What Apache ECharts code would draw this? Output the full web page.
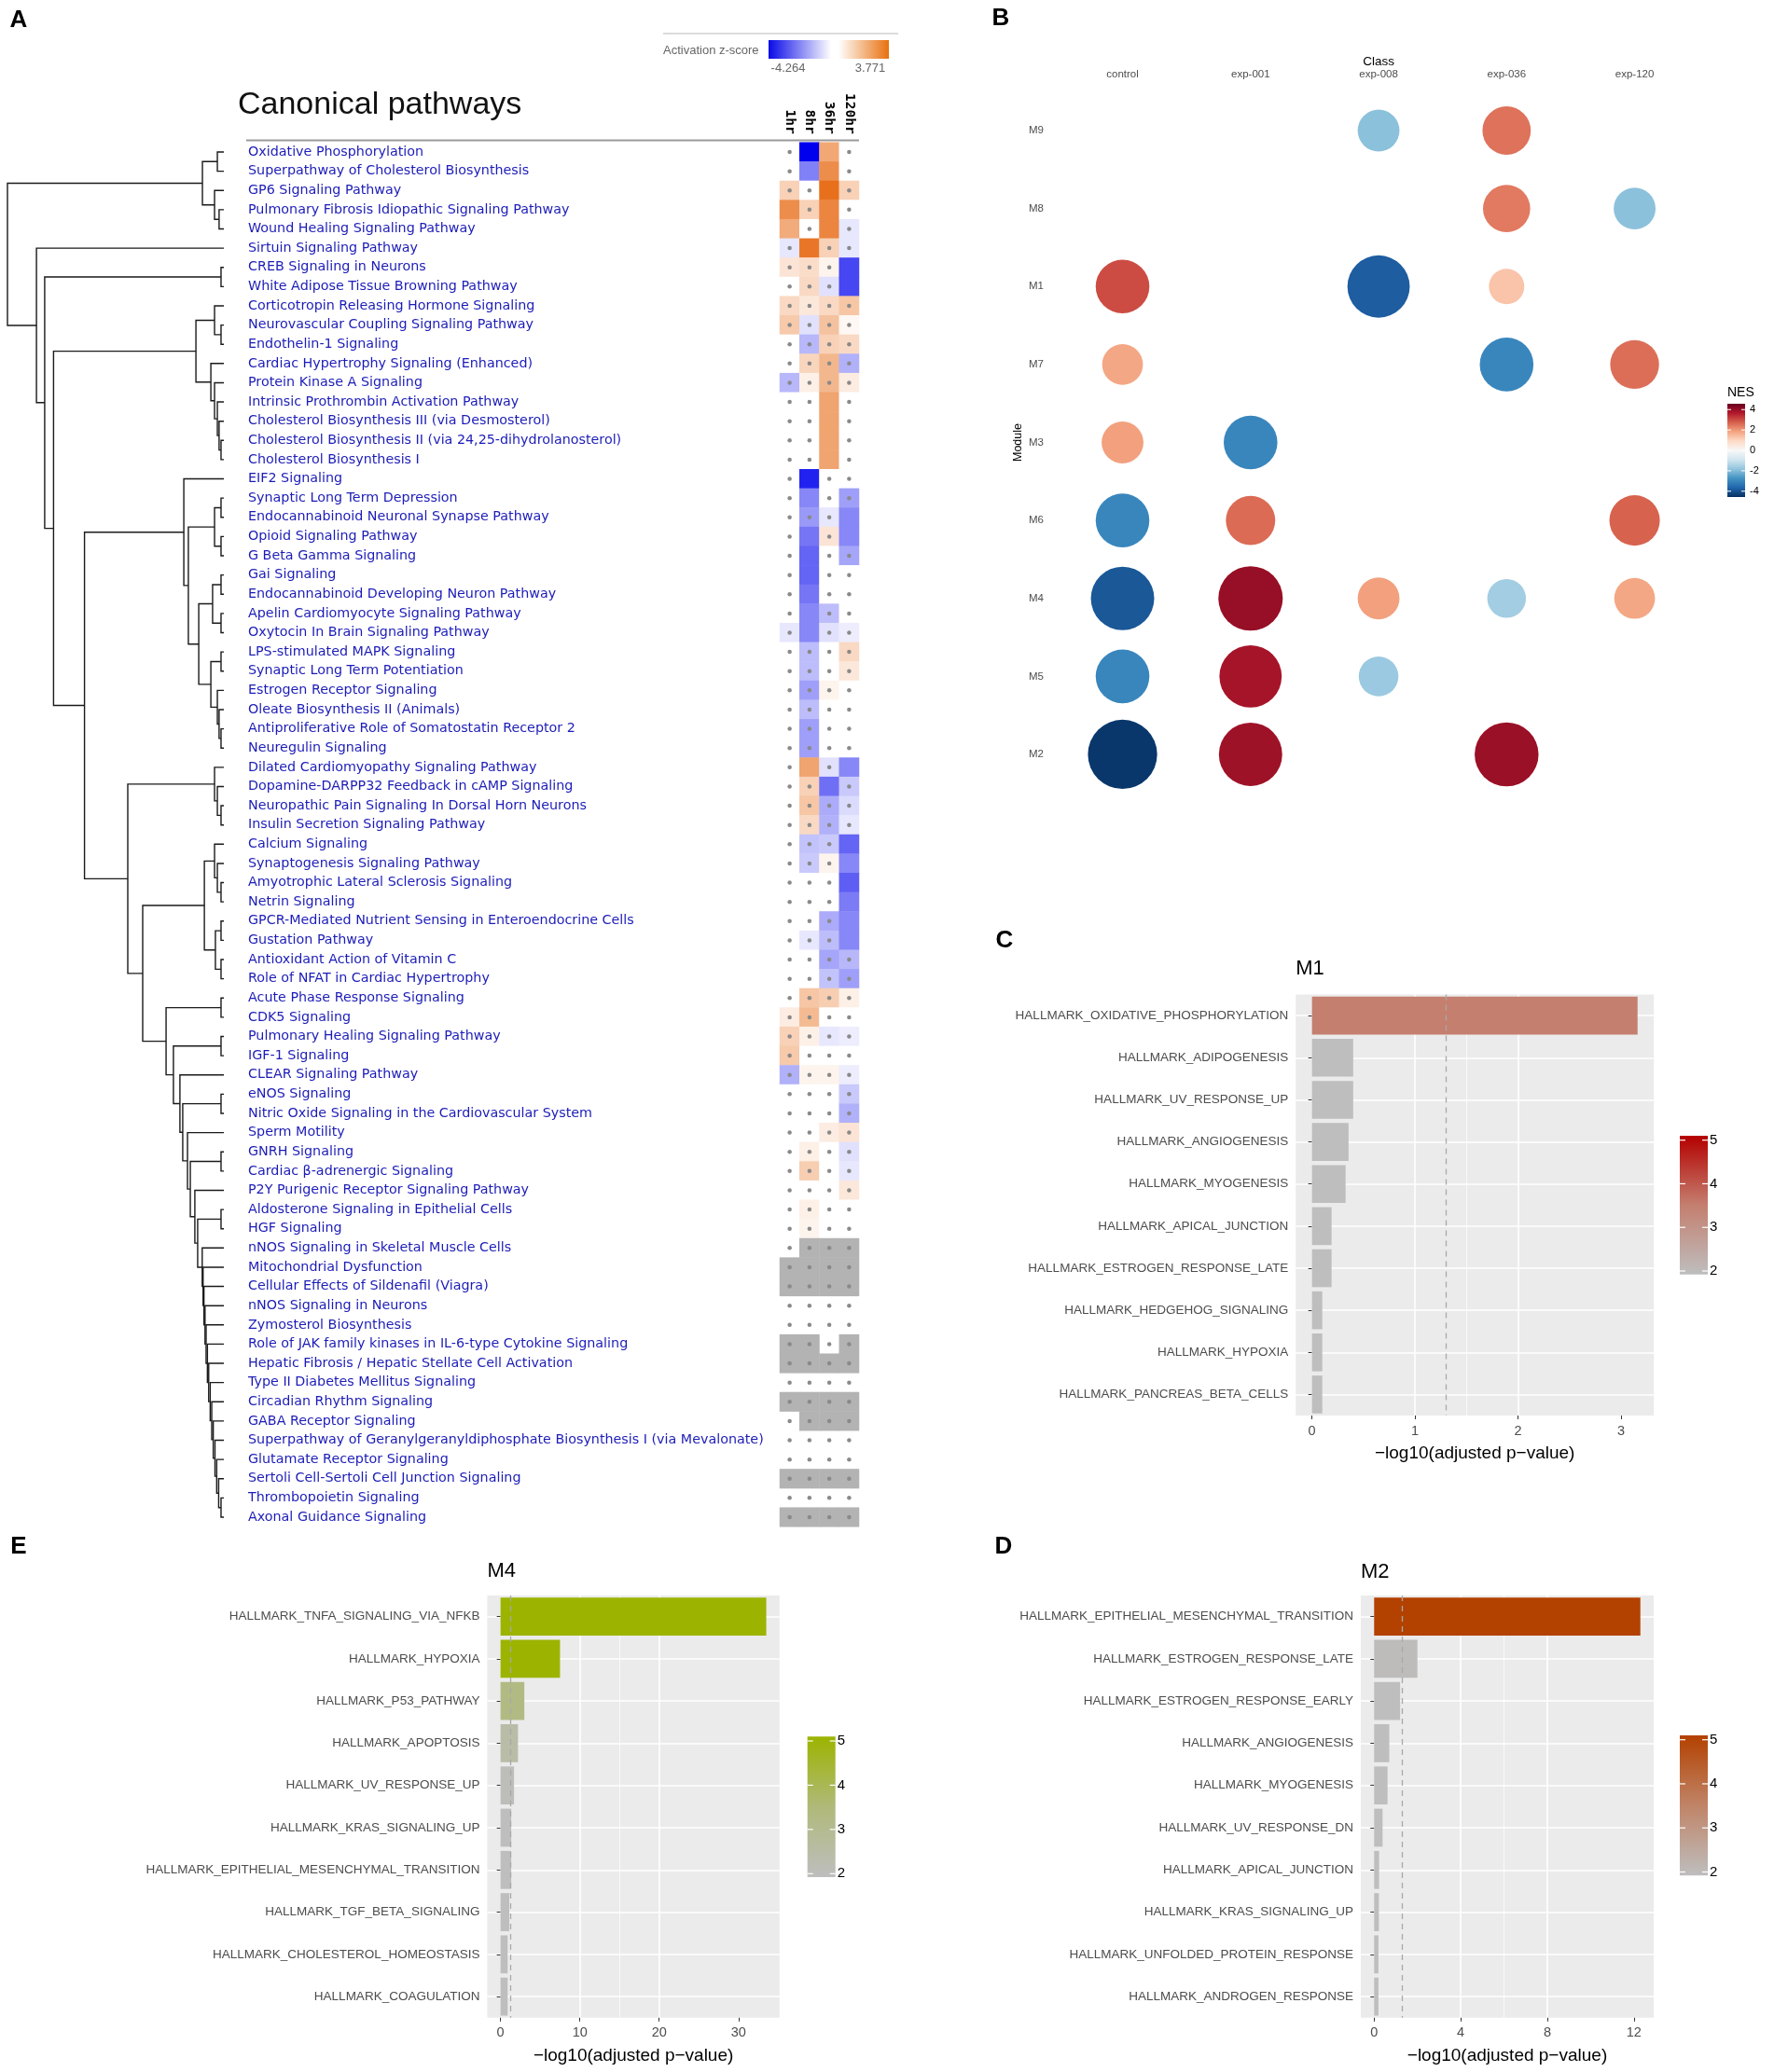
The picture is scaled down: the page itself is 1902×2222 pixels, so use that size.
<!DOCTYPE html>
<html><head><meta charset="utf-8">
<script src="https://cdn.jsdelivr.net/npm/echarts@6.0.0/dist/echarts.min.js"></script>
<style>html,body{margin:0;padding:0;background:#fff}#c{width:1902px;height:2222px}</style>
</head><body><div id="c"></div>
<script>
// ================= DATA =================
const pathways = [
 'Oxidative Phosphorylation','Superpathway of Cholesterol Biosynthesis','GP6 Signaling Pathway',
 'Pulmonary Fibrosis Idiopathic Signaling Pathway','Wound Healing Signaling Pathway','Sirtuin Signaling Pathway',
 'CREB Signaling in Neurons','White Adipose Tissue Browning Pathway','Corticotropin Releasing Hormone Signaling',
 'Neurovascular Coupling Signaling Pathway','Endothelin-1 Signaling','Cardiac Hypertrophy Signaling (Enhanced)',
 'Protein Kinase A Signaling','Intrinsic Prothrombin Activation Pathway','Cholesterol Biosynthesis III (via Desmosterol)',
 'Cholesterol Biosynthesis II (via 24,25-dihydrolanosterol)','Cholesterol Biosynthesis I','EIF2 Signaling',
 'Synaptic Long Term Depression','Endocannabinoid Neuronal Synapse Pathway','Opioid Signaling Pathway',
 'G Beta Gamma Signaling','Gai Signaling','Endocannabinoid Developing Neuron Pathway',
 'Apelin Cardiomyocyte Signaling Pathway','Oxytocin In Brain Signaling Pathway','LPS-stimulated MAPK Signaling',
 'Synaptic Long Term Potentiation','Estrogen Receptor Signaling','Oleate Biosynthesis II (Animals)',
 'Antiproliferative Role of Somatostatin Receptor 2','Neuregulin Signaling','Dilated Cardiomyopathy Signaling Pathway',
 'Dopamine-DARPP32 Feedback in cAMP Signaling','Neuropathic Pain Signaling In Dorsal Horn Neurons','Insulin Secretion Signaling Pathway',
 'Calcium Signaling','Synaptogenesis Signaling Pathway','Amyotrophic Lateral Sclerosis Signaling',
 'Netrin Signaling','GPCR-Mediated Nutrient Sensing in Enteroendocrine Cells','Gustation Pathway',
 'Antioxidant Action of Vitamin C','Role of NFAT in Cardiac Hypertrophy','Acute Phase Response Signaling',
 'CDK5 Signaling','Pulmonary Healing Signaling Pathway','IGF-1 Signaling',
 'CLEAR Signaling Pathway','eNOS Signaling','Nitric Oxide Signaling in the Cardiovascular System',
 'Sperm Motility','GNRH Signaling','Cardiac \u03b2-adrenergic Signaling',
 'P2Y Purigenic Receptor Signaling Pathway','Aldosterone Signaling in Epithelial Cells','HGF Signaling',
 'nNOS Signaling in Skeletal Muscle Cells','Mitochondrial Dysfunction','Cellular Effects of Sildenafil (Viagra)',
 'nNOS Signaling in Neurons','Zymosterol Biosynthesis','Role of JAK family kinases in IL-6-type Cytokine Signaling',
 'Hepatic Fibrosis / Hepatic Stellate Cell Activation','Type II Diabetes Mellitus Signaling','Circadian Rhythm Signaling',
 'GABA Receptor Signaling','Superpathway of Geranylgeranyldiphosphate Biosynthesis I (via Mevalonate)','Glutamate Receptor Signaling',
 'Sertoli Cell-Sertoli Cell Junction Signaling','Thrombopoietin Signaling','Axonal Guidance Signaling'
];
const timepoints = ['1hr','8hr','36hr','120hr'];
// activation z-scores per time point (null = not available / grey cell)
const z1hr = [0,0,1.2,3.0,2.2,-0.4,0.7,0,1.0,1.4,0,0,-1.2,0,0,0,0,0,0,0,0,0,0,0,0,-0.4,0,0,0,0,0,0,0,0,0,0,0,0,0,0,0,0,0,0,0,0.5,1.2,1.4,-1.3,0,0,0,0,0,0,0,0,0,null,null,0,0,null,null,0,null,0,0,0,null,0,null];
const z8hr = [-4.264,-2.1,0,1.2,0,3.6,0.9,1.0,0.6,-0.5,-1.2,1.1,0.4,0,0,0,0,-3.7,-2.0,-1.7,-2.3,-2.6,-2.6,-2.3,-2.0,-2.0,-1.1,-1.1,-1.6,-1.1,-1.6,-1.6,2.4,1.2,1.5,1.0,-1.0,-0.9,0,0,0,-0.4,0,0,1.5,1.8,0.4,0,0.3,0,0,0,0.4,1.3,0,0.4,0.3,null,null,null,0,0,null,null,0,null,null,0,0,null,0,null];
const z36hr = [2.3,3.0,3.771,3.2,3.2,1.2,0.3,-0.5,1.0,1.6,1.2,1.9,1.9,2.4,2.4,2.4,2.4,0,0,-0.4,0.7,0,0,0,-1.1,-0.5,0,0,0.3,0,0,0,-0.5,-2.4,-1.4,-1.3,-0.9,0.3,0,0,-1.4,-1.1,-1.5,-1.0,1.3,0,-0.4,0,0.3,0,0,0.5,0,0,0,0,0,null,null,null,0,0,0,null,0,null,null,0,0,null,0,null];
const z120hr = [0,0,1.2,0,-0.4,-0.4,-3.1,-3.1,1.5,0.2,1.0,-1.3,0.5,0,0,0,0,0,-1.6,-2.0,-2.0,-1.5,0,0,0,-0.3,1.0,0.6,0,0,0,0,-2.0,-0.9,-0.6,-0.4,-2.6,-2.0,-2.7,-2.2,-2.0,-2.0,-1.2,-1.6,0.4,0,-0.3,0,-0.3,-0.9,-1.3,0.7,-0.5,-0.4,0.6,0,0,null,null,null,0,0,null,null,0,null,null,0,0,null,0,null];
const zMin = -4.264, zMax = 3.771;

// dendrogram: [mergeHeight, left, right]; leaves are row numbers (1-based)
const cTop = [0.099, [0.030, 1, 2], [0.043, 3, [0.022, 4, 5]]];
const c9 = [0.129, [0.043, 9, [0.013, 10, 11]], [0.060, 12, [0.043, 13, [0.030, 14, [0.022, 15, [0.013, 16, 17]]]]]];
const c18 = [0.185, 18, [0.164, [0.043, [0.013, 19, 20], [0.013, 21, 22]],
              [0.116, [0.052, [0.013, 23, 24], [0.013, 25, 26]],
                      [0.060, [0.013, 27, 28], [0.030, 29, [0.022, 30, [0.013, 31, 32]]]]]]];
const c33 = [0.043, 33, [0.030, 34, [0.013, 35, 36]]];
const c37 = [0.090, [0.043, 37, [0.030, 38, [0.013, 39, 40]]], [0.039, [0.013, 41, 42], [0.013, 43, 44]]];
// chain of rows 45..57 (inner to outer): [height, joining branch]
const chainJoins = [[0.121, [0.013, 56, 57]], [0.134, 55], [0.155, [0.013, 53, 54]], [0.168, 52],
                    [0.190, [0.013, 50, 51]], [0.203, 49], [0.233, [0.013, 47, 48]], [0.267, [0.013, 45, 46]]];
// staircase rows 58..72
const stairHeights = [0.100, 0.096, 0.092, 0.087, 0.082, 0.076, 0.070, 0.063, 0.056, 0.049, 0.041, 0.033, 0.024, 0.013];
const nodeHeights = {y2: 0.444, y2b: 0.375, y: 0.644, r3: 0.787, r2: 0.828, r: 0.866, root: 1.0, r78: 0.013};

// Panel B
const classes = ['control','exp-001','exp-008','exp-036','exp-120'];
const modules = ['M9','M8','M1','M7','M3','M6','M4','M5','M2'];
const nesM9 = [null, null, -1.9, 2.5, null];
const nesM8 = [null, null, null, 2.4, -1.9];
const nesM1 = [3.0, null, -3.8, 1.3, null];
const nesM7 = [1.8, null, null, -3.0, 2.55];
const nesM3 = [1.9, -3.0, null, null, null];
const nesM6 = [-3.0, 2.6, null, null, 2.7];
const nesM4 = [-3.9, 4.0, 1.9, -1.6, 1.8];
const nesM5 = [-3.0, 3.8, -1.7, null, null];
const nesM2 = [-4.45, 3.9, null, 3.95, null];
const nesRows = [nesM9, nesM8, nesM1, nesM7, nesM3, nesM6, nesM4, nesM5, nesM2];
const nesTicks = [4, 2, 0, -2, -4];

// Panels C, D, E
const m1Terms = ['HALLMARK_OXIDATIVE_PHOSPHORYLATION','HALLMARK_ADIPOGENESIS','HALLMARK_UV_RESPONSE_UP','HALLMARK_ANGIOGENESIS','HALLMARK_MYOGENESIS','HALLMARK_APICAL_JUNCTION','HALLMARK_ESTROGEN_RESPONSE_LATE','HALLMARK_HEDGEHOG_SIGNALING','HALLMARK_HYPOXIA','HALLMARK_PANCREAS_BETA_CELLS'];
const m1LogP = [3.16, 0.40, 0.40, 0.355, 0.326, 0.19, 0.19, 0.10, 0.10, 0.10];
const m1Color = [3.5, 1.5, 1.5, 1.4, 1.4, 1.2, 1.2, 1.0, 1.0, 1.0];
const m2Terms = ['HALLMARK_EPITHELIAL_MESENCHYMAL_TRANSITION','HALLMARK_ESTROGEN_RESPONSE_LATE','HALLMARK_ESTROGEN_RESPONSE_EARLY','HALLMARK_ANGIOGENESIS','HALLMARK_MYOGENESIS','HALLMARK_UV_RESPONSE_DN','HALLMARK_APICAL_JUNCTION','HALLMARK_KRAS_SIGNALING_UP','HALLMARK_UNFOLDED_PROTEIN_RESPONSE','HALLMARK_ANDROGEN_RESPONSE'];
const m2LogP = [12.3, 2.0, 1.2, 0.7, 0.62, 0.39, 0.23, 0.22, 0.2, 0.2];
const m2Color = [5.0, 2.05, 1.6, 1.3, 1.2, 1.0, 0.8, 0.8, 0.7, 0.7];
const m4Terms = ['HALLMARK_TNFA_SIGNALING_VIA_NFKB','HALLMARK_HYPOXIA','HALLMARK_P53_PATHWAY','HALLMARK_APOPTOSIS','HALLMARK_UV_RESPONSE_UP','HALLMARK_KRAS_SIGNALING_UP','HALLMARK_EPITHELIAL_MESENCHYMAL_TRANSITION','HALLMARK_TGF_BETA_SIGNALING','HALLMARK_CHOLESTEROL_HOMEOSTASIS','HALLMARK_COAGULATION'];
const m4LogP = [33.5, 7.5, 3.0, 2.2, 1.7, 1.35, 1.35, 1.1, 0.9, 0.9];
const m4Color = [5.0, 5.0, 3.3, 2.5, 2.1, 2.0, 2.0, 1.6, 1.4, 1.4];
const m1Breaks = [0, 1, 2, 3], m1Minor = [0.5, 1.5, 2.5];
const m2Breaks = [0, 4, 8, 12], m2Minor = [2, 6, 10];
const m4Breaks = [0, 10, 20, 30], m4Minor = [5, 15, 25];
const colorTicks = [5, 4, 3, 2];
const pCut = 0.05;

// ================= RENDER =================
const FN = "'Liberation Sans',Arial,sans-serif";
const FS = "'Liberation Sans',Arial,sans-serif";
const FV = "'DejaVu Sans',Verdana,sans-serif";
const FM = "'DejaVu Sans Mono',monospace";

let stair = 72;
for (let k = stairHeights.length - 1; k >= 0; k--) stair = [stairHeights[k], 58 + k, stair];
let chain = stair;
chainJoins.forEach(j => { chain = [j[0], j[1], chain]; });
const yNode = [nodeHeights.y, c18, [nodeHeights.y2, c33, [nodeHeights.y2b, c37, chain]]];
const tree = [nodeHeights.root, cTop, [nodeHeights.r, 6, [nodeHeights.r2, [nodeHeights.r78, 7, 8], [nodeHeights.r3, c9, yNode]]]];

const chart = echarts.init(document.getElementById('c'), null, {renderer: 'canvas', width: 1902, height: 2222});

const dendroSegs = [];
function lay(node) {
  if (typeof node === 'number') return {y: node - 1, h: 0};
  const A = lay(node[1]), B = lay(node[2]);
  dendroSegs.push({coords: [[A.h, A.y], [node[0], A.y], [node[0], B.y], [B.h, B.y]]});
  return {y: (A.y + B.y) / 2, h: node[0]};
}
lay(tree);

const heatData = [], greyData = [], dotData = [];
[z1hr, z8hr, z36hr, z120hr].forEach((col, c) => col.forEach((v, r) => {
  if (v === null) { greyData.push([c, r, 0]); dotData.push([c, r]); }
  else { heatData.push([c, r, v]); if (Math.abs(v) < 2) dotData.push([c, r]); }
}));

const bubbleData = [];
nesRows.forEach((row, r) => row.forEach((v, c) => { if (v !== null) bubbleData.push([c, r, v, Math.abs(v)]); }));
const NES_LIM = 4.57;
const rdbu = ['#053061','#2166ac','#4393c3','#92c5de','#d1e5f0','#f7f7f7','#fddbc7','#f4a582','#d6604d','#b2182b','#67001f'];

const panels = [
  {title:'M1', terms:m1Terms, vals:m1LogP, cols:m1Color, br:m1Breaks, mi:m1Minor, rect:{left:1389.2, top:1066.6, width:384, height:451.4}, titleY:1039,
   colors:['#bebebe','#c47f6f','#b40000'], cb:{x:1801, y5:1222.7, y2:1363}},
  {title:'M2', terms:m2Terms, vals:m2LogP, cols:m2Color, br:m2Breaks, mi:m2Minor, rect:{left:1459, top:1710.9, width:314, height:452.9}, titleY:1686,
   colors:['#bebebe','#c08467','#b34100'], cb:{x:1801, y5:1865.7, y2:2007.5}},
  {title:'M4', terms:m4Terms, vals:m4LogP, cols:m4Color, br:m4Breaks, mi:m4Minor, rect:{left:522.4, top:1710.9, width:313.4, height:452.9}, titleY:1685,
   colors:['#bebebe','#b0b97a','#9cb400'], cb:{x:865.7, y5:1867, y2:2009.3}}
];

const grids = [
  {left:8, top:152.7, width:232, height:1484.6},
  {left:836, top:152.7, width:85, height:1484.6},
  {left:1134.9, top:98.2, width:686.3, height:752.6}
];
const xAxes = [
  {gridIndex:0, type:'value', min:0, max:1, inverse:true, show:false},
  {gridIndex:1, type:'category', data:timepoints, position:'top', axisLine:{show:false}, axisTick:{show:false},
   axisLabel:{interval:0, rotate:90, margin:9, fontSize:14.5, fontWeight:'bold', fontFamily:FM, color:'#000'}, splitLine:{show:false}},
  {gridIndex:2, type:'category', data:classes, position:'top', axisLine:{show:false}, axisTick:{show:false},
   axisLabel:{interval:0, margin:12, fontSize:11.5, fontFamily:FN, color:'#4d4d4d'}, splitLine:{show:false},
   name:'Class', nameLocation:'middle', nameGap:25, nameTextStyle:{fontSize:13.5, fontFamily:FN, color:'#000'}}
];
const yAxes = [
  {gridIndex:0, type:'value', min:-0.5, max:71.5, inverse:true, show:false},
  {gridIndex:1, type:'category', data:pathways, inverse:true, axisLine:{show:false}, axisTick:{show:false},
   axisLabel:{interval:0, align:'left', margin:570, fontSize:14.3, fontFamily:FV, color:'#1c1cb8'}, splitLine:{show:false}},
  {gridIndex:2, type:'category', data:modules, inverse:true, axisLine:{show:false}, axisTick:{show:false},
   axisLabel:{interval:0, margin:16, fontSize:11.5, fontFamily:FN, color:'#4d4d4d'}, splitLine:{show:false},
   name:'Module', nameLocation:'middle', nameRotate:90, nameGap:37, nameTextStyle:{fontSize:12.5, fontFamily:FN, color:'#000'}}
];
const series = [
  {type:'lines', coordinateSystem:'cartesian2d', xAxisIndex:0, yAxisIndex:0, polyline:true, silent:true,
   lineStyle:{color:'#1a1a1a', width:1.4, opacity:1}, data:dendroSegs},
  {type:'heatmap', xAxisIndex:1, yAxisIndex:1, data:heatData, silent:true, z:2},
  {type:'heatmap', xAxisIndex:1, yAxisIndex:1, data:greyData, silent:true, itemStyle:{color:'#b3b3b3'}, z:2},
  {type:'scatter', xAxisIndex:1, yAxisIndex:1, data:dotData, symbol:'circle', symbolSize:4.5, silent:true,
   itemStyle:{color:'#8a8a8a', opacity:1}, z:3},
  {type:'scatter', xAxisIndex:2, yAxisIndex:2, data:bubbleData, symbol:'circle', silent:true, itemStyle:{opacity:1}}
];
const visualMaps = [
  {type:'continuous', show:false, seriesIndex:1, dimension:2, min:zMin, max:-zMin, inRange:{color:['#0000ee','#ffffff','#e55d00']}},
  {type:'continuous', show:false, seriesIndex:4, dimension:2, min:-NES_LIM, max:NES_LIM, inRange:{color:rdbu}},
  {type:'continuous', show:false, seriesIndex:4, dimension:3, min:0, max:4.6, inRange:{symbolSize:[23, 76]}}
];

const G = [];
function txt(x, y, text, size, o) {
  o = o || {};
  return {type:'text', x:x, y:y, silent:true, z:20, style:{text:text, fontSize:size, fontFamily:o.f || FS,
    fontWeight:o.w || 'normal', fill:o.c || '#000', align:o.a || 'left', verticalAlign:o.v || 'middle'}};
}
function line(x1, y1, x2, y2, col, w) {
  return {type:'line', silent:true, z:21, shape:{x1:x1, y1:y1, x2:x2, y2:y2}, style:{stroke:col, lineWidth:w}};
}

panels.forEach((p) => {
  const gi = grids.length;
  const M = Math.max.apply(null, p.vals);
  const lo = -0.05 * M, hi = 1.05 * M;
  grids.push(Object.assign({show:true, backgroundColor:'#ebebeb', borderWidth:0}, p.rect));
  const xMain = xAxes.length;
  xAxes.push({gridIndex:gi, type:'value', min:lo, max:hi, position:'bottom', splitNumber:3,
    axisLine:{show:false}, axisTick:{show:true, length:4, lineStyle:{color:'#333', width:1}, customValues:p.br},
    axisLabel:{customValues:p.br, color:'#4d4d4d', fontSize:14.5, fontFamily:FN, margin:9},
    splitLine:{show:true, showMinLine:false, showMaxLine:false, lineStyle:{color:'#ffffff', width:1.6}},
    name:'\u2212log10(adjusted p\u2212value)', nameLocation:'middle', nameGap:31,
    nameTextStyle:{fontSize:19, fontFamily:FN, color:'#000'}});
  xAxes.push({gridIndex:gi, type:'value', min:lo, max:hi, position:'top',
    axisLine:{show:false}, axisTick:{show:false, customValues:p.mi}, axisLabel:{show:false, customValues:p.mi},
    splitLine:{show:true, showMinLine:false, showMaxLine:false, lineStyle:{color:'#ffffff', width:0.7}}});
  const yi = yAxes.length;
  yAxes.push({gridIndex:gi, type:'category', data:p.terms, inverse:true, axisLine:{show:false},
    axisTick:{show:true, alignWithLabel:true, interval:0, length:4, lineStyle:{color:'#333', width:1}},
    axisLabel:{interval:0, color:'#4d4d4d', fontSize:13.5, fontFamily:FN, margin:8},
    splitLine:{show:true, alignWithLabel:true, interval:0, lineStyle:{color:'#ffffff', width:1.6}}});
  const si = series.length;
  series.push({type:'bar', xAxisIndex:xMain, yAxisIndex:yi, barWidth:'90%', silent:true, z:3,
    data:p.terms.map((t, k) => [p.vals[k], t, p.cols[k]]), encode:{x:0, y:1},
    markLine:{silent:true, symbol:'none', label:{show:false}, lineStyle:{type:[6, 5], color:'#a8a8a8', width:1.3},
      data:[{xAxis:-Math.log10(pCut)}]}});
  visualMaps.push({type:'continuous', show:false, seriesIndex:si, dimension:2, min:2, max:5,
    inRange:{color:p.colors}, outOfRange:{color:'#d9d9d9'}});
  G.push(txt(p.rect.left, p.titleY, p.title, 22, {f:FN}));
  const cb = p.cb, ppu = (cb.y2 - cb.y5) / 3, w = 30;
  const top = cb.y5 - 0.1 * ppu, bot = cb.y2 + 0.08 * ppu;
  G.push({type:'rect', silent:true, z:20, shape:{x:cb.x, y:top, width:w, height:bot - top},
    style:{fill:{type:'linear', x:0, y:0, x2:0, y2:1, colorStops:[{offset:0, color:p.colors[2]}, {offset:0.5, color:p.colors[1]}, {offset:1, color:p.colors[0]}]}}});
  colorTicks.forEach(v => {
    const y = cb.y5 + (5 - v) * ppu;
    G.push(line(cb.x, y, cb.x + 6, y, '#ffffff', 1.2));
    G.push(line(cb.x + w - 6, y, cb.x + w, y, '#ffffff', 1.2));
    G.push(txt(cb.x + w + 2, y, String(v), 15, {f:FN}));
  });
});

G.push(txt(20, 22, 'A', 26, {w:'bold', a:'center'}));
G.push(txt(1073, 20, 'B', 26, {w:'bold', a:'center'}));
G.push(txt(1077, 1009, 'C', 26, {w:'bold', a:'center'}));
G.push(txt(1076, 1659, 'D', 26, {w:'bold', a:'center'}));
G.push(txt(20, 1659, 'E', 26, {w:'bold', a:'center'}));
G.push(txt(255, 113, 'Canonical pathways', 34, {f:FS, c:'#111'}));
G.push(line(264, 150.5, 921, 150.5, '#9a9a9a', 2));
G.push(line(711, 36, 963, 36, '#d0d0d0', 1.5));
G.push(txt(711, 54, 'Activation z-score', 13, {f:FN, c:'#666'}));
G.push({type:'rect', silent:true, z:20, shape:{x:824, y:43, width:129, height:20},
  style:{fill:{type:'linear', x:0, y:0, x2:1, y2:0, colorStops:[{offset:0, color:'#0a0ae8'}, {offset:0.52, color:'#ffffff'}, {offset:0.58, color:'#ffffff'}, {offset:1, color:'#e8700e'}]}}});
G.push(txt(845, 73, String(zMin), 13, {f:FN, c:'#666', a:'center'}));
G.push(txt(933, 73, String(zMax), 13, {f:FN, c:'#666', a:'center'}));
(function () {
  const x = 1852, y = 433, w = 19, h = 100;
  G.push(txt(x, 421, 'NES', 14, {f:FN}));
  G.push({type:'rect', silent:true, z:20, shape:{x:x, y:y, width:w, height:h},
    style:{fill:{type:'linear', x:0, y:0, x2:0, y2:1, colorStops:rdbu.slice().reverse().map((c, i) => ({offset:i / (rdbu.length - 1), color:c}))}}});
  nesTicks.forEach(v => {
    const yy = y + (NES_LIM - v) / (2 * NES_LIM) * h;
    G.push(line(x, yy, x + 4, yy, '#ffffff', 1));
    G.push(line(x + w - 4, yy, x + w, yy, '#ffffff', 1));
    G.push(txt(x + w + 5, yy, String(v), 11, {f:FN}));
  });
})();

chart.setOption({
  animation:false,
  backgroundColor:'#ffffff',
  textStyle:{fontFamily:FS},
  grid:grids.map(g => Object.assign({outerBoundsMode:'none', containLabel:false}, g)),
  xAxis:xAxes, yAxis:yAxes, visualMap:visualMaps, series:series,
  graphic:{elements:G}
});
</script>
</body></html>
